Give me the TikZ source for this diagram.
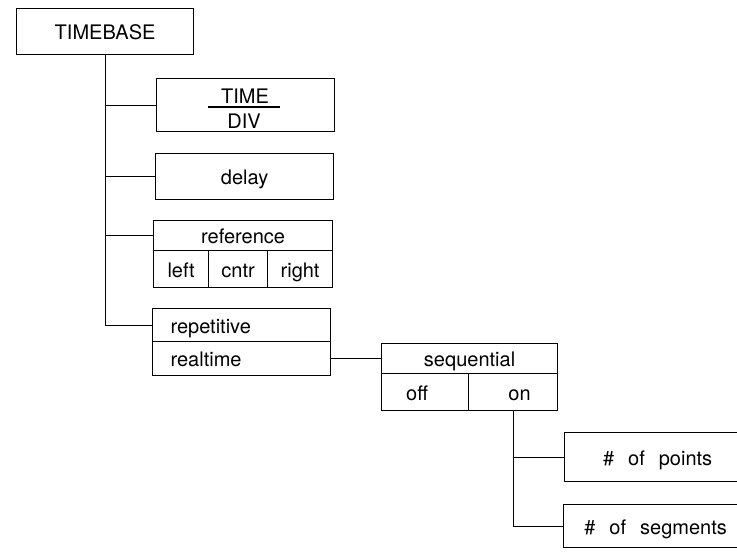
\documentclass[tikz,border=0pt]{standalone}
\usepackage{fontspec}
\setmainfont{TeX Gyre Heros}
\begin{document}
\begin{tikzpicture}[x=1pt,y=-1pt,
  lw/.style={line width=1.2pt},
  box/.style={draw, lw, inner sep=0pt, anchor=north west,
    text height=17pt, text depth=1pt,
    font=\fontsize{20}{24}\selectfont},
  lbox/.style={box, align=left, inner xsep=18pt},
  txt/.style={inner sep=0pt, text height=17pt, text depth=1pt,
    font=\fontsize{20}{24}\selectfont},
  conn/.style={lw}]
\useasboundingbox (0,0) rectangle (737,552);
\clip (0,0) rectangle (737,552);

% root
\node[box, minimum width=177pt, minimum height=46pt] (tb) at (16,8) {TIMEBASE};

% TIME/DIV
\node[box, minimum width=178pt, minimum height=53pt] (td) at (156,78) {};
\node[txt] (tdtime) at (245,95) {TIME};
\node[txt] (tddiv) at (244,120) {DIV};
\draw[lw] (208,107) -- (280,107);

% delay
\node[box, minimum width=178pt, minimum height=46pt] (dl) at (155,153) {delay};

% reference
\node[box, minimum width=179pt, minimum height=30pt] (ref) at (153,220) {reference};
\node[box, minimum width=55pt, minimum height=37pt] (rl) at (153,250) {left};
\node[box, minimum width=59pt, minimum height=37pt] (rc) at (208,250) {cntr};
\node[box, minimum width=65pt, minimum height=37pt] (rr) at (267,250) {right};

% repetitive / realtime
\node[lbox, text width=142pt, minimum height=33pt] (rep) at (152,308) {repetitive};
\node[lbox, text width=142pt, minimum height=34pt] (rt) at (152,341) {realtime};

% sequential
\node[box, minimum width=176pt, minimum height=30pt] (seq) at (381,343) {sequential};
\node[box, minimum width=87pt, minimum height=37pt] (off) at (381,373) {\hspace*{-16pt}off};
\node[box, minimum width=89pt, minimum height=37pt] (on) at (468,373) {\hspace*{13pt}on};

% points / segments
\node[box, minimum width=186pt, minimum height=49pt] (pts) at (564,432) {\#\hspace{14pt}of\hspace{14pt}points};
\node[box, minimum width=184pt, minimum height=43pt] (seg) at (563,504) {\#\hspace{14pt}of\hspace{14pt}segments};

% connectors
\draw[conn] (tb.south) |- (td.west);
\draw[conn] (tb.south) |- (dl.west);
\draw[conn] (tb.south) |- (ref.west);
\draw[conn] (tb.south) |- (rep.west);
\draw[conn] (rt.east) -- (seq.west |- rt.east);
\draw[conn] (on.south) |- (pts.west);
\draw[conn] (on.south) |- (seg.west);
\end{tikzpicture}
\end{document}
